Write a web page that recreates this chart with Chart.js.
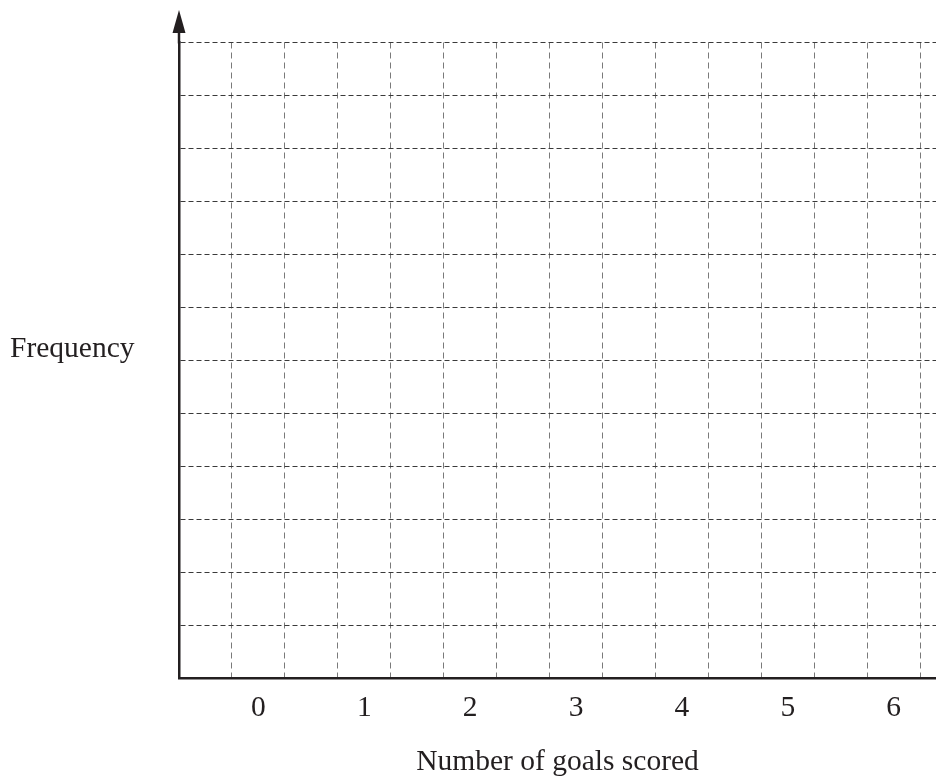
<!DOCTYPE html>
<html>
<head>
<meta charset="utf-8">
<title>Number of goals scored</title>
<script src="https://cdn.jsdelivr.net/npm/chart.js@4/dist/chart.umd.min.js"></script>
<style>
  html, body { margin: 0; padding: 0; background: #fff; }
  #wrap { width: 936px; height: 783px; }
</style>
</head>
<body>
<div id="wrap"><canvas id="goalsChart" width="936" height="783"></canvas></div>
<script>
/**
 * Blank frequency grid for goals scored
 */

// categories along the bottom
var goals = [0, 1, 2, 3, 4, 5, 6];
var goalLabels = ["0", "1", "2", "3", "4", "5", "6"];

// frequency values (the sheet is left blank, nothing to plot)
var frequencies = [null, null, null, null, null, null, null];

// grid lines sit half way between the goal labels
var xGridLines = [-0.25, 0.25, 0.75, 1.25, 1.75, 2.25, 2.75, 3.25, 3.75, 4.25, 4.75, 5.25, 5.75, 6.25];
var yGridLines = [1, 2, 3, 4, 5, 6, 7, 8, 9, 10, 11, 12];

var xTitle = "Number of goals scored";
var yTitle = "Frequency";

var ink = "#231f20";
var serif = "'Liberation Serif', 'DejaVu Serif', serif";
var fontSize = 29.5;

console.log("Initialisation");

var xTicks = xGridLines.concat(goals).sort(function(a, b) { return a - b; });

/**
 * Arrow head on top of the frequency axis and the horizontal axis name
 */
var axisExtras = {
  id : "axisExtras",
  afterDraw : function(chart) {
    var ctx = chart.ctx;
    var area = chart.chartArea;
    var x = area.left;

    ctx.save();
    ctx.strokeStyle = ink;
    ctx.fillStyle = ink;
    ctx.lineWidth = 2.5;
    ctx.beginPath();
    ctx.moveTo(x, area.top + 1);
    ctx.lineTo(x, 28);
    ctx.stroke();

    ctx.beginPath();
    ctx.moveTo(x, 10);
    ctx.lineTo(x - 6.5, 33);
    ctx.lineTo(x + 6.5, 33);
    ctx.closePath();
    ctx.fill();

    ctx.font = fontSize + "px " + serif;
    ctx.textAlign = "left";
    ctx.textBaseline = "alphabetic";
    ctx.fillText(yTitle, 10, 357);
    ctx.restore();
  }
};

var goalsChart = new Chart(document.getElementById("goalsChart"), {
  type : "bar",
  data : {
    labels : goalLabels,
    datasets : [{
      label : yTitle,
      data : goals.map(function(g, i) { return { x : g, y : frequencies[i] }; }),
      backgroundColor : "rgba(0,0,0,0)"
    }]
  },
  options : {
    responsive : false,
    animation : false,
    events : [],
    layout : { padding : { left : 179, top : 42.5, right : 0, bottom : 0 } },
    plugins : { legend : { display : false }, tooltip : { enabled : false } },
    scales : {
      x : {
        type : "linear",
        min : -0.75,
        max : 6.4,
        offset : false,
        afterBuildTicks : function(scale) {
          scale.ticks = xTicks.map(function(v) { return { value : v }; });
        },
        grid : {
          offset : false,
          drawTicks : false,
          lineWidth : 1,
          color : function(c) {
            return (c.tick && goals.indexOf(c.tick.value) === -1) ? "#7a7a7a" : "rgba(0,0,0,0)";
          }
        },
        border : { display : true, color : ink, width : 2.5, dash : [6, 4] },
        ticks : {
          autoSkip : false,
          maxRotation : 0,
          padding : 12,
          color : ink,
          font : { family : serif, size : fontSize },
          callback : function(v) {
            var i = goals.indexOf(v);
            return i === -1 ? "" : goalLabels[i];
          }
        },
        title : {
          display : true,
          text : xTitle,
          color : ink,
          font : { family : serif, size : fontSize },
          padding : { top : 7, bottom : 3 }
        }
      },
      y : {
        type : "linear",
        min : 0,
        max : 12,
        afterBuildTicks : function(scale) {
          scale.ticks = [0].concat(yGridLines).map(function(v) { return { value : v }; });
        },
        grid : {
          drawTicks : false,
          lineWidth : 1,
          color : function(c) {
            return (c.tick && c.tick.value > 0) ? "#3a3a3a" : "rgba(0,0,0,0)";
          }
        },
        border : { display : true, color : ink, width : 2.5, dash : [5, 3] },
        ticks : { display : false }
      }
    }
  },
  plugins : [axisExtras]
});
</script>
</body>
</html>
